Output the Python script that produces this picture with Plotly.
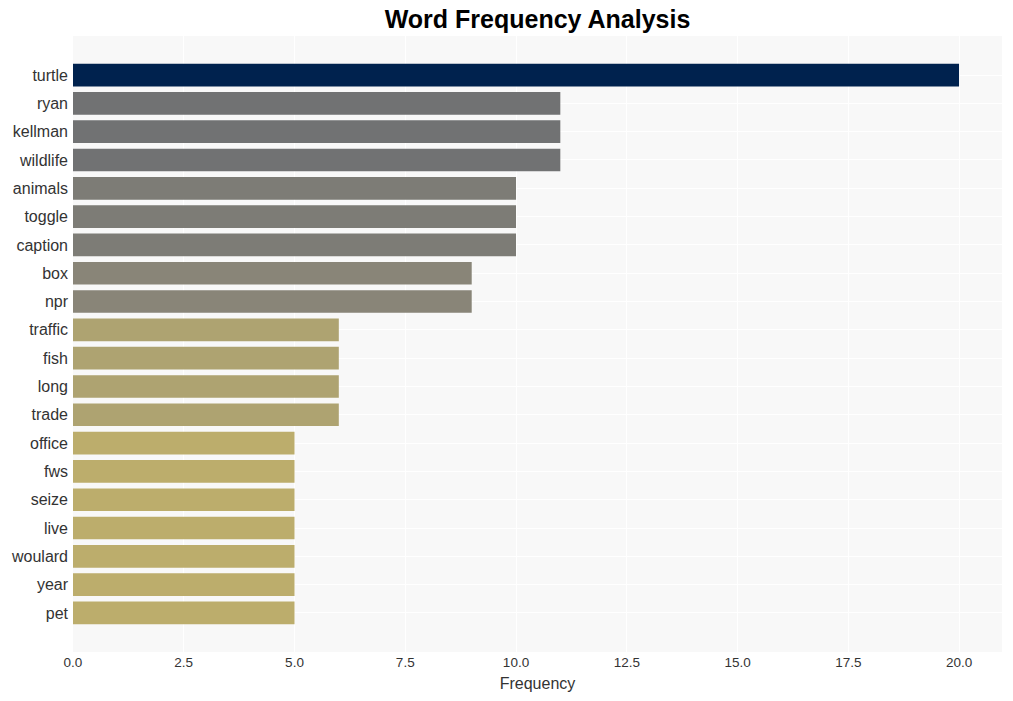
import plotly.graph_objects as go

words = ["turtle", "ryan", "kellman", "wildlife", "animals", "toggle", "caption",
         "box", "npr", "traffic", "fish", "long", "trade", "office", "fws",
         "seize", "live", "woulard", "year", "pet"]
freqs = [20, 11, 11, 11, 10, 10, 10, 9, 9, 6, 6, 6, 6, 5, 5, 5, 5, 5, 5, 5]

fig = go.Figure(go.Bar(
    x=freqs, y=words, orientation="h",
    marker=dict(color=freqs, colorscale="Cividis", reversescale=True,
                cmin=0, cmax=20, line=dict(width=0)),
    width=0.8,
))

fig.update_layout(
    width=1013, height=701,
    margin=dict(l=73, r=11, t=36, b=49),
    paper_bgcolor="white",
    plot_bgcolor="#f8f8f8",
    font=dict(family="Liberation Sans, Arial, sans-serif", color="#333"),
    title=dict(text="<b>Word Frequency Analysis</b>", x=0.5, xref="paper",
               xanchor="center", y=0.972, yanchor="middle",
               font=dict(size=25, color="black")),
    showlegend=False,
)
fig.update_xaxes(
    title=dict(text="Frequency", font=dict(size=16, color="#333"), standoff=9),
    range=[0, 20.97], dtick=2.5, tickformat=".1f",
    tickfont=dict(size=13.5, color="#333"),
    gridcolor="white", gridwidth=1, zeroline=False, showline=False,
)
fig.update_yaxes(
    range=[20.38, -1.38],
    tickfont=dict(size=16, color="#333"),
    gridcolor="white", gridwidth=1, zeroline=False, showline=False,
    ticks="", ticklabelstandoff=4,
)

fig.write_html("out.html")
